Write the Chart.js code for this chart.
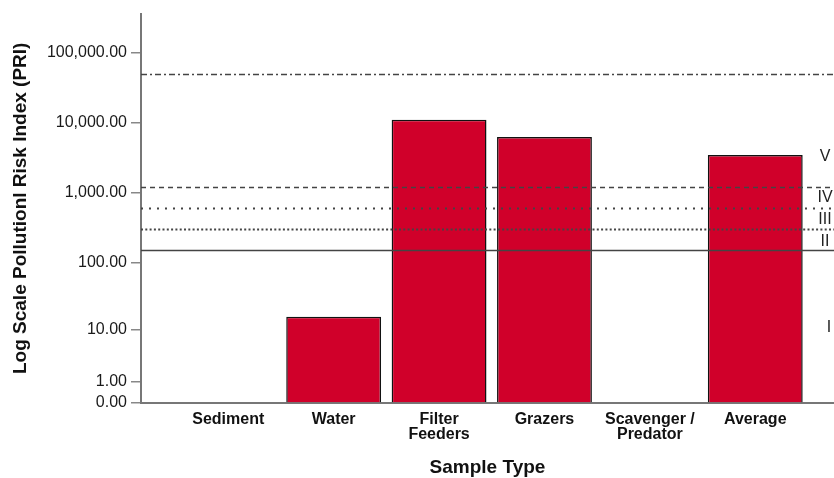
<!DOCTYPE html>
<html>
<head>
<meta charset="utf-8">
<script src="https://cdn.jsdelivr.net/npm/chart.js@4/dist/chart.umd.min.js"></script>
<style>
  html, body { margin: 0; padding: 0; background: #ffffff; }
  #wrap { position: relative; width: 834px; height: 478px; }
</style>
</head>
<body>
<div id="wrap"><canvas id="chart"></canvas></div>
<script>
// Sample types and their pollution risk index
const categories = ['Sediment', 'Water', 'Filter Feeders', 'Grazers', 'Scavenger / Predator', 'Average'];
const categoryLines = [['Sediment'], ['Water'], ['Filter', 'Feeders'], ['Grazers'], ['Scavenger /', 'Predator'], ['Average']];
const priValues = [0, 16, 11100, 6300, 0, 3480];

// Axis ticks on the log(1 + x) scale
const yTicks = [0, 1, 10, 100, 1000, 10000, 100000];

// Risk class boundaries and the class labels placed between them
const classBounds = [150, 300, 600, 1200, 50000];
const classNames = ['I', 'II', 'III', 'IV', 'V'];
const classLabelAt = [11, 200, 420, 850, 3300];

// Log scale that also accepts zero: position follows log10(1 + value)
class SafeLogScale extends Chart.LinearScale {
  static id = 'safelog';
  static defaults = {};
  buildTicks() {
    return yTicks.map(v => ({ value: v }));
  }
  _tf(v) { return Math.log10(1 + Math.max(v, 0)); }
  getPixelForValue(value) {
    const lo = this._tf(this.min), hi = this._tf(this.max);
    return this.getPixelForDecimal((this._tf(value) - lo) / (hi - lo));
  }
  getValueForPixel(pixel) {
    const lo = this._tf(this.min), hi = this._tf(this.max);
    return Math.pow(10, lo + this.getDecimalForPixel(pixel) * (hi - lo)) - 1;
  }
}
Chart.register(SafeLogScale);

const lineStyles = [
  { dash: [], width: 1.5, color: '#444' },
  { dash: [2, 2.3], width: 1.8, color: '#444' },
  { dash: [2, 6], width: 1.8, color: '#444' },
  { dash: [5, 4], width: 1.6, color: '#444' },
  { dash: [6, 3, 2, 3], width: 1.5, color: '#444' }
];

const classLines = {
  id: 'classLines',
  afterDatasetsDraw(chart) {
    const { ctx, chartArea, scales: { y } } = chart;
    ctx.save();
    classBounds.forEach((v, i) => {
      const st = lineStyles[i];
      const py = Math.round(y.getPixelForValue(v)) + 0.5;
      ctx.beginPath();
      ctx.setLineDash(st.dash);
      ctx.lineWidth = st.width;
      ctx.strokeStyle = st.color;
      ctx.moveTo(chartArea.left, py);
      ctx.lineTo(chartArea.right, py);
      ctx.stroke();
    });
    ctx.setLineDash([]);
    ctx.fillStyle = '#222';
    ctx.font = '16px "Liberation Sans", Arial, sans-serif';
    ctx.textAlign = 'center';
    ctx.textBaseline = 'middle';
    classNames.forEach((name, i) => {
      const px = name === 'I' ? chartArea.right - 5 : chartArea.right - 9;
      ctx.fillText(name, px, y.getPixelForValue(classLabelAt[i]));
    });
    ctx.restore();
  }
};

const fmt = new Intl.NumberFormat('en-US', { minimumFractionDigits: 2, maximumFractionDigits: 2 });

new Chart(document.getElementById('chart'), {
  type: 'bar',
  data: {
    datasets: [{
      data: priValues.map((v, i) => ({ x: i, y: v })),
      backgroundColor: '#d0002a',
      borderColor: '#111',
      borderWidth: 1.5,
      barPercentage: 0.9,
      categoryPercentage: 1
    }]
  },
  options: {
    responsive: true,
    maintainAspectRatio: false,
    animation: false,
    layout: { padding: { top: 13, right: 0, left: 0, bottom: 0 } },
    plugins: { legend: { display: false }, tooltip: { enabled: false } },
    scales: {
      x: {
        type: 'linear',
        offset: false,
        min: -0.828,
        max: 5.747,
        afterBuildTicks(scale) {
          scale.ticks = categories.map((_, i) => ({ value: i }));
        },
        afterFit(scale) { scale.height = 75; },
        grid: { offset: false, drawOnChartArea: false, drawTicks: false, color: '#888' },
        border: { display: true, color: '#777', width: 2 },
        ticks: {
          autoSkip: false,
          maxRotation: 0,
          padding: 9,
          color: '#111',
          font: { family: '"Liberation Sans", Arial, sans-serif', size: 16, weight: 'bold', lineHeight: 0.95 },
          callback: (v) => categoryLines[v] || ''
        },
        title: {
          display: true,
          text: 'Sample Type',
          color: '#111',
          font: { family: '"Liberation Sans", Arial, sans-serif', size: 19, weight: 'bold', lineHeight: 1 },
          padding: { top: 0, bottom: 0.5 }
        }
      },
      y: {
        type: 'safelog',
        min: 0,
        max: 363000,
        afterFit(scale) { scale.width = 141; },
        grid: { drawOnChartArea: false, drawTicks: true, tickLength: 10, color: '#888', lineWidth: 1.5 },
        border: { display: true, color: '#777', width: 2 },
        ticks: {
          autoSkip: false,
          padding: 4,
          color: '#1a1a1a',
          font: { family: '"Liberation Sans", Arial, sans-serif', size: 16 },
          callback: (v) => fmt.format(v)
        },
        title: {
          display: true,
          text: 'Log Scale Pollutionl Risk Index (PRI)',
          color: '#111',
          font: { family: '"Liberation Sans", Arial, sans-serif', size: 19, weight: 'bold', lineHeight: 1 },
          padding: { top: 11.5, bottom: 0 }
        }
      }
    }
  },
  plugins: [classLines]
});
</script>
</body>
</html>
